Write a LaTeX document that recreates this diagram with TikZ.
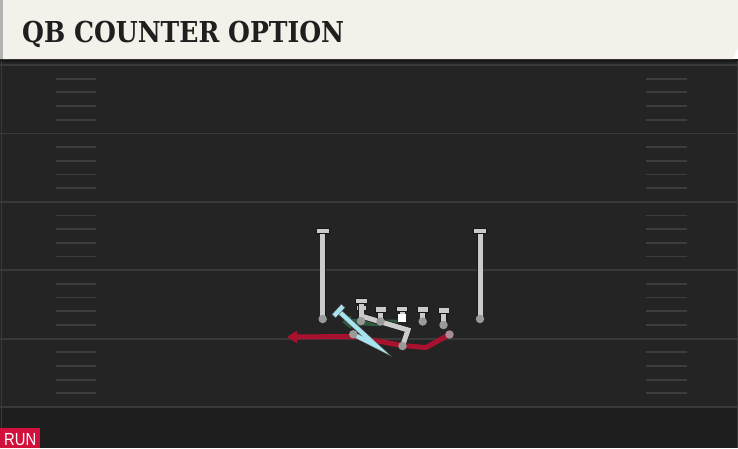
\documentclass[tikz,border=0pt]{standalone}
\usepackage{fontspec}
\usetikzlibrary{arrows.meta,calc}
\newfontfamily\titlefont{DejaVu Serif}
\newfontfamily\runfont{Liberation Sans}
\definecolor{cream}{HTML}{F4F1EA}
\definecolor{fieldbg}{HTML}{242424}
\definecolor{fielddark}{HTML}{1E1E1E}
\definecolor{fieldline}{HTML}{393939}
\definecolor{hashcol}{HTML}{3D3D3D}
\definecolor{titlecol}{HTML}{1F1F1F}
\definecolor{runred}{HTML}{D2103C}
\definecolor{routegrey}{HTML}{CBCBCB}
\definecolor{outlinecol}{HTML}{181818}
\definecolor{dotgrey}{HTML}{9A9A9A}
\definecolor{reddot}{HTML}{A98C91}
\definecolor{playred}{HTML}{A9122E}
\definecolor{playcyan}{HTML}{A8E4F0}
\definecolor{playgreen}{HTML}{2F5A3E}
\tikzset{
  fline/.style={draw=fieldline, line width=1.8pt},
  hashmark/.style={draw=hashcol, line width=1.8pt},
  gr/.style={draw=routegrey, line width=5pt, line join=miter,
    preaction={draw=outlinecol, line width=6.4pt}},
  capbar/.style={draw=routegrey, line width=4.6pt, line cap=butt,
    preaction={draw=outlinecol, line width=6pt, line cap=butt,
      shorten <=-0.8pt, shorten >=-0.8pt}},
  cyroute/.style={draw=playcyan, line width=4.2pt, line join=miter,
    preaction={draw=outlinecol!70, line width=5.4pt}},
  cycap/.style={draw=playcyan, line width=4.2pt, line cap=butt,
    preaction={draw=outlinecol!70, line width=5.4pt, line cap=butt,
      shorten <=-0.7pt, shorten >=-0.7pt}},
  redroute/.style={draw=playred, line width=5pt, line join=round,
    -{Triangle[width=12pt,length=10pt]}},
  greenroute/.style={draw=playgreen, line width=6.5pt,
    -{Triangle[width=13pt,length=9pt]}},
  dot/.style={circle, fill=dotgrey, minimum size=8.5pt, inner sep=0pt},
}
\begin{document}
\begin{tikzpicture}[x=1pt,y=-1pt]
\useasboundingbox (0,0) rectangle (738,448);
% field
\fill[fieldbg] (0,59) rectangle (738,448);
\fill[fielddark] (0,407) rectangle (738,448);
\fill[black!90] (0,59) rectangle (738,61.5);
\draw[fieldline, line width=0.8pt] (1,61) -- (1,448);
\draw[fieldline, line width=0.8pt] (737,61) -- (737,448);
% yard lines
\foreach \k in {0,...,5}
  \draw[fline] (0,{65+68.4*\k}) -- (738,{65+68.4*\k});
% hash marks
\foreach \k in {0,...,4}
  \foreach \j in {1,...,4}{
    \draw[hashmark] (56,{65+68.4*\k+13.68*\j}) -- (96,{65+68.4*\k+13.68*\j});
    \draw[hashmark] (646,{65+68.4*\k+13.68*\j}) -- (687,{65+68.4*\k+13.68*\j});
  }
% title bar
\fill[cream] (0,0) -- (738,0) -- (738,47) -- (733,59) -- (0,59) -- cycle;
\fill[black!30] (0,0) rectangle (2.5,59);
\node[anchor=base west, inner sep=0pt, text=titlecol] (title) at (22,42.5)
  {\resizebox{322pt}{\height}{\titlefont\bfseries\fontsize{28.8}{30}\selectfont QB COUNTER OPTION}};
% run badge
\fill[runred] (0,428) rectangle (40,448);
\node[anchor=base west, inner sep=0pt, text=white] (run) at (4,445)
  {\resizebox{32pt}{\height}{\runfont\fontsize{17.5}{18}\selectfont RUN}};
% positions
\coordinate (lwrP) at (322.7,319);
\coordinate (lwrT) at (322.7,231);
\coordinate (rwrP) at (480,319);
\coordinate (rwrT) at (480,231);
\coordinate (l1P) at (361,321);
\coordinate (l1T) at (361,301);
\coordinate (l2P) at (380.5,321.5);
\coordinate (l2T) at (380.5,309.5);
\coordinate (cP) at (402,318);
\coordinate (cT) at (402,309);
\coordinate (l4P) at (422.7,321.5);
\coordinate (l4T) at (422.7,309.5);
\coordinate (l5P) at (443.5,325);
\coordinate (l5T) at (443.5,310.5);
\coordinate (qbP) at (353.3,334.3);
\coordinate (rbP) at (402.5,346);
\coordinate (teP) at (449.5,334.5);
\coordinate (gA) at (408,330);
\coordinate (gB) at (361,316);
\coordinate (gT) at (361,308);
\coordinate (rA) at (426,347.5);
\coordinate (rB) at (402,345.5);
\coordinate (rC) at (353,336.5);
\coordinate (rEnd) at (287,337);
\coordinate (cyA) at (376.5,346);
\coordinate (cyT) at (338.5,311);
\coordinate (grS) at (397,323);
\coordinate (grE) at (342,322);
% green arrow
\draw[greenroute] (grS) -- (grE);
% red route
\draw[redroute] (teP) -- (rA) -- (rB) -- (rC) -- (rEnd);
% cyan route
\draw[cyroute] (qbP) -- (cyA) -- (cyT);
\draw[cycap] ($(cyT)!6.5pt!90:(cyA)$) -- ($(cyT)!6.5pt!-90:(cyA)$);
% receivers
\draw[gr] (lwrP) -- (lwrT);
\draw[capbar] ($(lwrT)+(-6,0)$) -- ($(lwrT)+(6,0)$);
\draw[gr] (rwrP) -- (rwrT);
\draw[capbar] ($(rwrT)+(-6,0)$) -- ($(rwrT)+(6,0)$);
% back route
\draw[gr] (rbP) -- (gA) -- (gB) -- (gT);
\draw[capbar] ($(gT)+(-4.5,0)$) -- ($(gT)+(4.5,0)$);
% linemen
\foreach \p/\t/\w in {l1/l1/5.5, l2/l2/5, c/c/5, l4/l4/5, l5/l5/5}{
  \draw[gr] (\p P) -- (\t T);
  \draw[capbar] ($(\t T)+(-\w,0)$) -- ($(\t T)+(\w,0)$);
}
% dots
\node[dot] (lwr) at (lwrP) {};
\node[dot] (rwr) at (rwrP) {};
\node[dot] (l1) at (l1P) {};
\node[dot] (l2) at (l2P) {};
\node[dot] (l4) at (l4P) {};
\node[dot] (l5) at (l5P) {};
\node[fill=white, minimum size=7.5pt, inner sep=0pt] (ctr) at (cP) {};
\node[dot] (qb) at (qbP) {};
\node[dot] (rb) at (rbP) {};
\node[dot, fill=reddot] (te) at (teP) {};
\end{tikzpicture}
\end{document}
